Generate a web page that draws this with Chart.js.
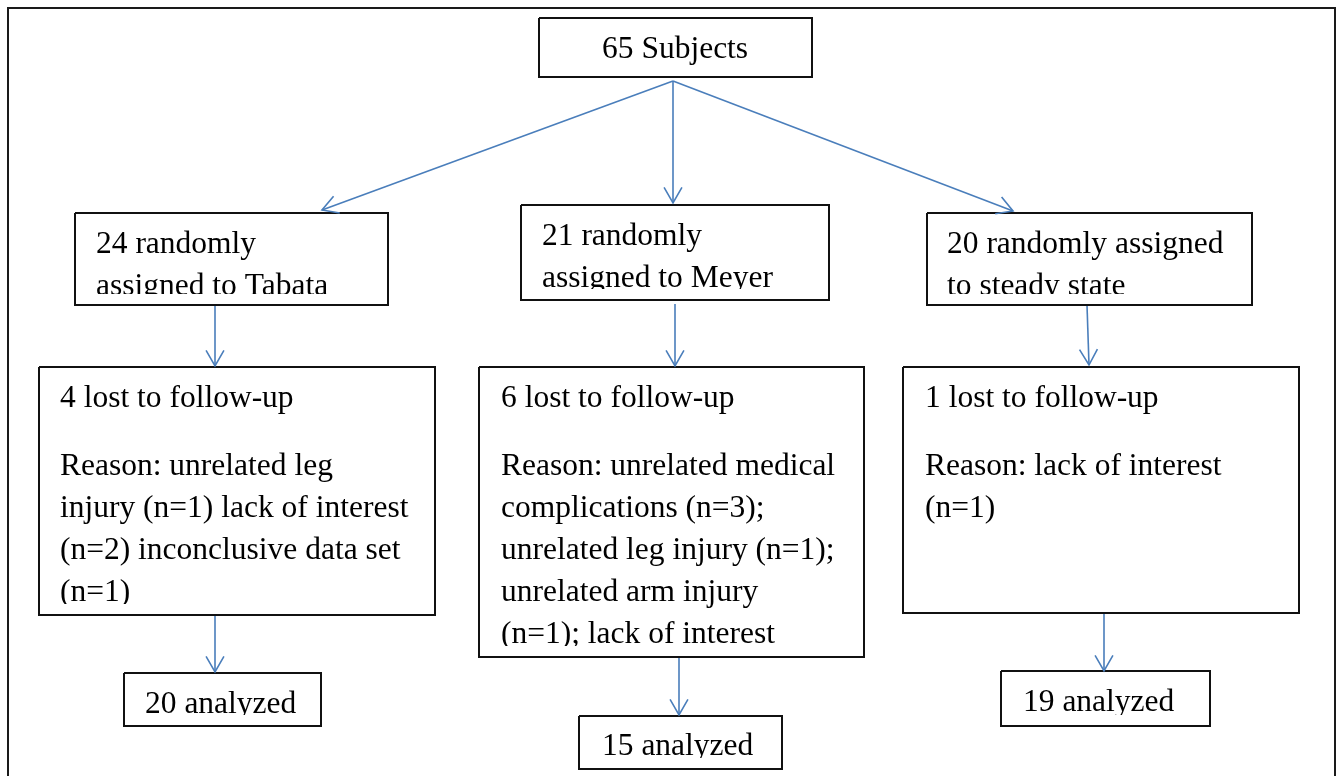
<!DOCTYPE html>
<html>
<head>
<meta charset="utf-8">
<title>Flow of subjects</title>
<script src="https://cdn.jsdelivr.net/npm/chart.js@4.4.1/dist/chart.umd.min.js"></script>
<style>
    html, body { margin: 0; padding: 0; background: #ffffff; }
    #wrap { width: 1342px; height: 776px; }
</style>
</head>
<body>
<div id="wrap"><canvas id="flow" width="1342" height="776"></canvas></div>
<script>
// Boxes of the flow diagram (page units, y grows downwards)
var boxNames  = ['all', 'tabata', 'meyer', 'steady', 'lostTabata', 'lostMeyer', 'lostSteady', 'anaTabata', 'anaMeyer', 'anaSteady'];
var boxLeft   = [539, 75, 521, 927, 39, 479, 903, 124, 579, 1001];
var boxTop    = [18, 213, 205, 213, 367, 367, 367, 673, 716, 671];
var boxRight  = [812, 388, 829, 1252, 435, 864, 1299, 321, 782, 1210];
var boxBottom = [77, 305, 300, 305, 615, 657, 613, 726, 769, 726];

// Text blocks: which box, where the first line starts, and its lines
var textBox      = [0, 1, 2, 3, 4, 4, 5, 5, 6, 6, 7, 8, 9];
var textX        = [602, 96, 542, 947, 60, 60, 501, 501, 925, 925, 145, 602, 1023];
var textBaseline = [58, 253, 245, 253, 407, 475, 407, 475, 407, 475, 713, 755, 711];
var textLines = [
    ['65 Subjects'],
    ['24 randomly', 'assigned to Tabata'],
    ['21 randomly', 'assigned to Meyer'],
    ['20 randomly assigned', 'to steady state'],
    ['4 lost to follow-up'],
    ['Reason: unrelated leg', 'injury (n=1) lack of interest', '(n=2) inconclusive data set', '(n=1)'],
    ['6 lost to follow-up'],
    ['Reason: unrelated medical', 'complications (n=3);', 'unrelated leg injury (n=1);', 'unrelated arm injury', '(n=1); lack of interest'],
    ['1 lost to follow-up'],
    ['Reason: lack of interest', '(n=1)'],
    ['20 analyzed'],
    ['15 analyzed'],
    ['19 analyzed']
];

// Connectors between boxes
var arrowFromX = [673, 673, 673, 215, 675, 1087, 215, 679, 1104];
var arrowFromY = [81, 81, 81, 305, 304, 305, 615, 657, 613];
var arrowToX   = [322, 673, 1013, 215, 675, 1089, 215, 679, 1104];
var arrowToY   = [210, 203, 211, 366, 366, 365, 672, 715, 671];

// Outer frame (runs off the bottom of the page)
var frameX = [8, 8, 1335, 1335];
var frameY = [800, 8, 8, 800];

var ARROW_COLOR = '#4a7ebb';
var FONT = '31.5px "Liberation Serif", "Times New Roman", serif';
var LINE_STEP = 42;

function buildDatasets() {
    var sets = [];

    // frame
    var framePts = [];
    for (var i = 0; i < frameX.length; i++) {
        framePts.push({ x: frameX[i], y: frameY[i] });
    }
    sets.push({
        data: framePts, showLine: true, borderColor: '#1a1a1a', borderWidth: 2,
        pointRadius: 0, fill: false, tension: 0, clip: false
    });

    // boxes as closed outlines
    boxNames.forEach(function (name, i) {
        sets.push({
            label: name,
            data: [
                { x: boxLeft[i], y: boxTop[i] },
                { x: boxRight[i], y: boxTop[i] },
                { x: boxRight[i], y: boxBottom[i] },
                { x: boxLeft[i], y: boxBottom[i] },
                { x: boxLeft[i], y: boxTop[i] }
            ],
            showLine: true, borderColor: '#111111', borderWidth: 2,
            backgroundColor: '#ffffff', fill: false,
            pointRadius: 0, tension: 0, borderJoinStyle: 'miter', clip: false
        });
    });

    // arrows
    for (var k = 0; k < arrowFromX.length; k++) {
        sets.push({
            label: 'arrow',
            data: [{ x: arrowFromX[k], y: arrowFromY[k] }, { x: arrowToX[k], y: arrowToY[k] }],
            showLine: true, borderColor: ARROW_COLOR, borderWidth: 1.6,
            pointRadius: 0, fill: false, tension: 0, clip: false
        });
    }
    return sets;
}

// Draws open arrowheads at the end of every connector and the box texts
var flowPlugin = {
    id: 'flowPlugin',
    afterDatasetsDraw: function (chart) {
        var ctx = chart.ctx;
        var xs = chart.scales.x;
        var ys = chart.scales.y;

        // arrowheads, read from the points the library placed
        chart.data.datasets.forEach(function (ds, i) {
            if (ds.label !== 'arrow') return;
            var meta = chart.getDatasetMeta(i);
            var p0 = meta.data[0], p1 = meta.data[1];
            var ang = Math.atan2(p1.y - p0.y, p1.x - p0.x);
            var len = 18, spread = 0.52;
            ctx.save();
            ctx.strokeStyle = ARROW_COLOR;
            ctx.lineWidth = 1.6;
            ctx.beginPath();
            ctx.moveTo(p1.x - len * Math.cos(ang - spread), p1.y - len * Math.sin(ang - spread));
            ctx.lineTo(p1.x, p1.y);
            ctx.lineTo(p1.x - len * Math.cos(ang + spread), p1.y - len * Math.sin(ang + spread));
            ctx.stroke();
            ctx.restore();
        });

        // texts, clipped to the inside of their box like the original
        ctx.save();
        ctx.font = FONT;
        ctx.fillStyle = '#000000';
        ctx.textBaseline = 'alphabetic';
        ctx.textAlign = 'left';
        textLines.forEach(function (lines, t) {
            var b = textBox[t];
            var left = xs.getPixelForValue(boxLeft[b]) + 2;
            var top = ys.getPixelForValue(boxTop[b]) + 2;
            var right = xs.getPixelForValue(boxRight[b]) - 2;
            var bottom = ys.getPixelForValue(boxBottom[b]) - 11;
            ctx.save();
            ctx.beginPath();
            ctx.rect(left, top, right - left, bottom - top);
            ctx.clip();
            lines.forEach(function (line, j) {
                ctx.fillText(line, xs.getPixelForValue(textX[t]),
                    ys.getPixelForValue(textBaseline[t] + j * LINE_STEP));
            });
            ctx.restore();
        });
        ctx.restore();
    }
};

var chart = new Chart(document.getElementById('flow').getContext('2d'), {
    type: 'scatter',
    data: { datasets: buildDatasets() },
    options: {
        responsive: false,
        animation: false,
        events: [],
        layout: { padding: 0 },
        scales: {
            x: { type: 'linear', min: 0, max: 1342, display: false },
            y: { type: 'linear', min: 0, max: 776, reverse: true, display: false }
        },
        plugins: {
            legend: { display: false },
            tooltip: { enabled: false }
        }
    },
    plugins: [flowPlugin]
});
</script>
</body>
</html>
